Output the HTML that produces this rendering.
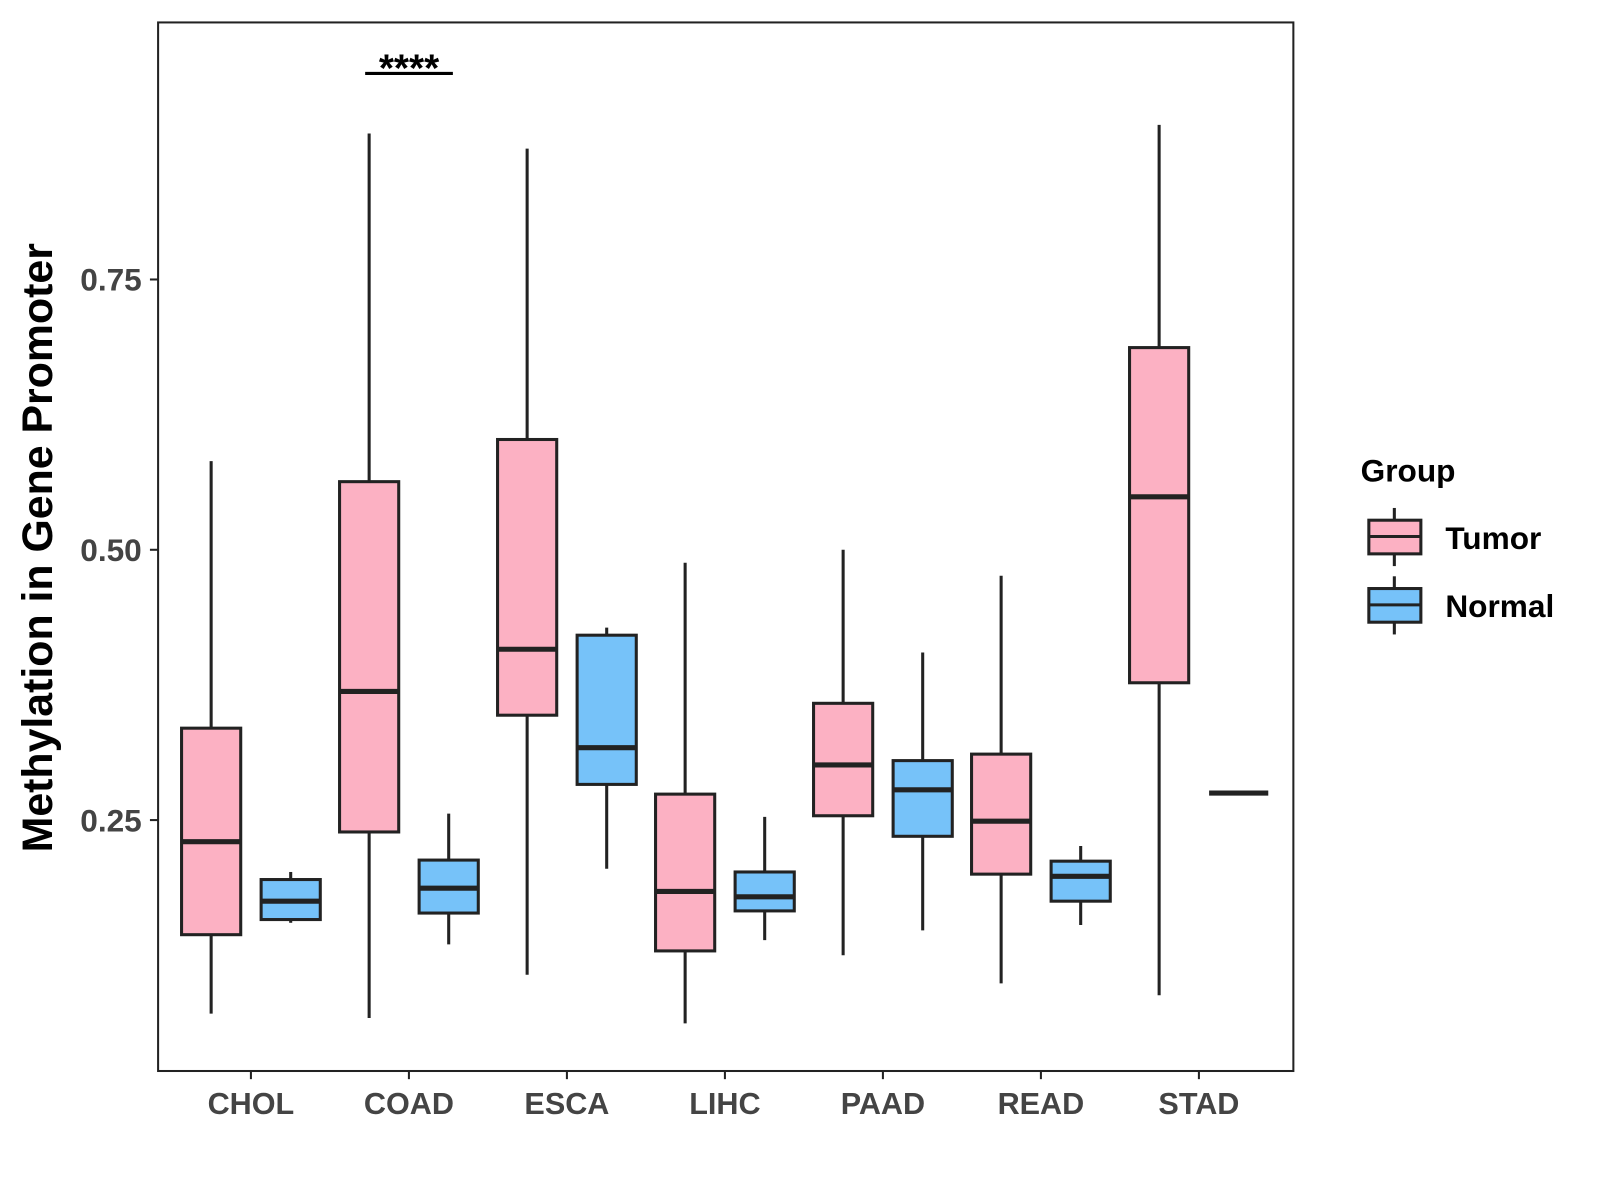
<!DOCTYPE html>
<html><head><meta charset="utf-8"><style>
html,body{margin:0;padding:0;background:#fff;}
svg{display:block;font-family:"Liberation Sans",Arial,sans-serif;}
</style></head><body>
<svg id="chart" width="1600" height="1200" viewBox="0 0 1600 1200">
<g transform="scale(1.02)">
<rect x="155" y="22" width="1113" height="1028" fill="#fff" stroke="#222" stroke-width="2"/>
<g id="marks"></g>
<g id="axes"></g>
<text x="40" y="537" transform="rotate(-90 40 537)" text-anchor="middle" dominant-baseline="middle" font-size="42" font-weight="bold" fill="#000">Methylation in Gene Promoter</text>
<line x1="358" y1="72" x2="444" y2="72" stroke="#000" stroke-width="3"/>
<text x="401" y="80" text-anchor="middle" font-size="38" font-weight="bold" fill="#000">****</text>
<g>
<text x="1334" y="472" font-size="31" font-weight="bold" fill="#000">Group</text>
<g>
<line x1="1367" y1="498" x2="1367" y2="555" stroke="#222" stroke-width="3"/>
<rect x="1342" y="510" width="51" height="33" fill="#fcb1c3" stroke="#222" stroke-width="3"/>
<line x1="1342" y1="526" x2="1393" y2="526" stroke="#222" stroke-width="3"/>
<text x="1417" y="538" font-size="31" font-weight="bold" fill="#000">Tumor</text>
</g>
<g>
<line x1="1367" y1="565" x2="1367" y2="622" stroke="#222" stroke-width="3"/>
<rect x="1342" y="577" width="51" height="33" fill="#76c2f9" stroke="#222" stroke-width="3"/>
<line x1="1342" y1="593" x2="1393" y2="593" stroke="#222" stroke-width="3"/>
<text x="1417" y="605" font-size="31" font-weight="bold" fill="#000">Normal</text>
</g>
</g>
</g>
</svg>
<script>
const categories = ["CHOL","COAD","ESCA","LIHC","PAAD","READ","STAD"];
const groups = ["Tumor","Normal"];
// [low, q1, median, q3, high]
const tumorStats = [
 [0.071,0.144,0.230,0.335,0.582],
 [0.067,0.239,0.369,0.563,0.885],
 [0.107,0.347,0.408,0.602,0.871],
 [0.062,0.129,0.184,0.274,0.488],
 [0.125,0.254,0.301,0.358,0.500],
 [0.099,0.200,0.249,0.311,0.476],
 [0.088,0.377,0.549,0.687,0.893]
];
const normalStats = [
 [0.155,0.158,0.175,0.195,0.202],
 [0.135,0.164,0.187,0.213,0.256],
 [0.205,0.283,0.317,0.421,0.428],
 [0.139,0.166,0.179,0.202,0.253],
 [0.148,0.235,0.278,0.305,0.405],
 [0.153,0.175,0.198,0.212,0.226],
 [0.275,0.275,0.275,0.275,0.275]
];
const yTicks = [0.25,0.50,0.75];
const yTickLabels = ["0.25","0.50","0.75"];

const NS="http://www.w3.org/2000/svg";
function y(v){return 804-(v-0.25)*1060;}
function xc(i){return 246+i*154.9;}
function mk(tag,attrs,parent){const e=document.createElementNS(NS,tag);for(const k in attrs)e.setAttribute(k,attrs[k]);parent.appendChild(e);return e;}
const marks=document.getElementById('marks');
const axes=document.getElementById('axes');
const fills=["#fcb1c3","#76c2f9"];
const bw=58;
[tumorStats,normalStats].forEach((stats,gi)=>{
 stats.forEach((s,i)=>{
  const cx=xc(i)+(gi===0?-39:39);
  const g=mk('g',{},marks);
  
  
  mk('line',{x1:cx,x2:cx,y1:y(s[4]),y2:y(s[0]),stroke:'#222','stroke-width':3},g);
  mk('rect',{x:cx-bw/2,y:y(s[3]),width:bw,height:Math.max(0,y(s[1])-y(s[3])),fill:fills[gi],stroke:'#222','stroke-width':3},g);
  mk('line',{x1:cx-bw/2,x2:cx+bw/2,y1:y(s[2]),y2:y(s[2]),stroke:'#222','stroke-width':5},g);
 });
});
yTicks.forEach((t,i)=>{
 const l=mk('line',{x1:147,x2:155,y1:y(t),y2:y(t),stroke:'#222','stroke-width':2},axes);
 
 
 const tx=mk('text',{x:139,y:y(t)+11,'text-anchor':'end','font-size':31,'font-weight':'bold',fill:'#444'},axes);
 tx.textContent=yTickLabels[i];
 
 
});
categories.forEach((c,i)=>{
 const l=mk('line',{x1:xc(i),x2:xc(i),y1:1050,y2:1058,stroke:'#222','stroke-width':2},axes);
 
 
 const tx=mk('text',{x:xc(i),y:1092,'text-anchor':'middle','font-size':30,'font-weight':'bold',fill:'#444'},axes);
 tx.textContent=c;
 
 
});
</script>
</body></html>
